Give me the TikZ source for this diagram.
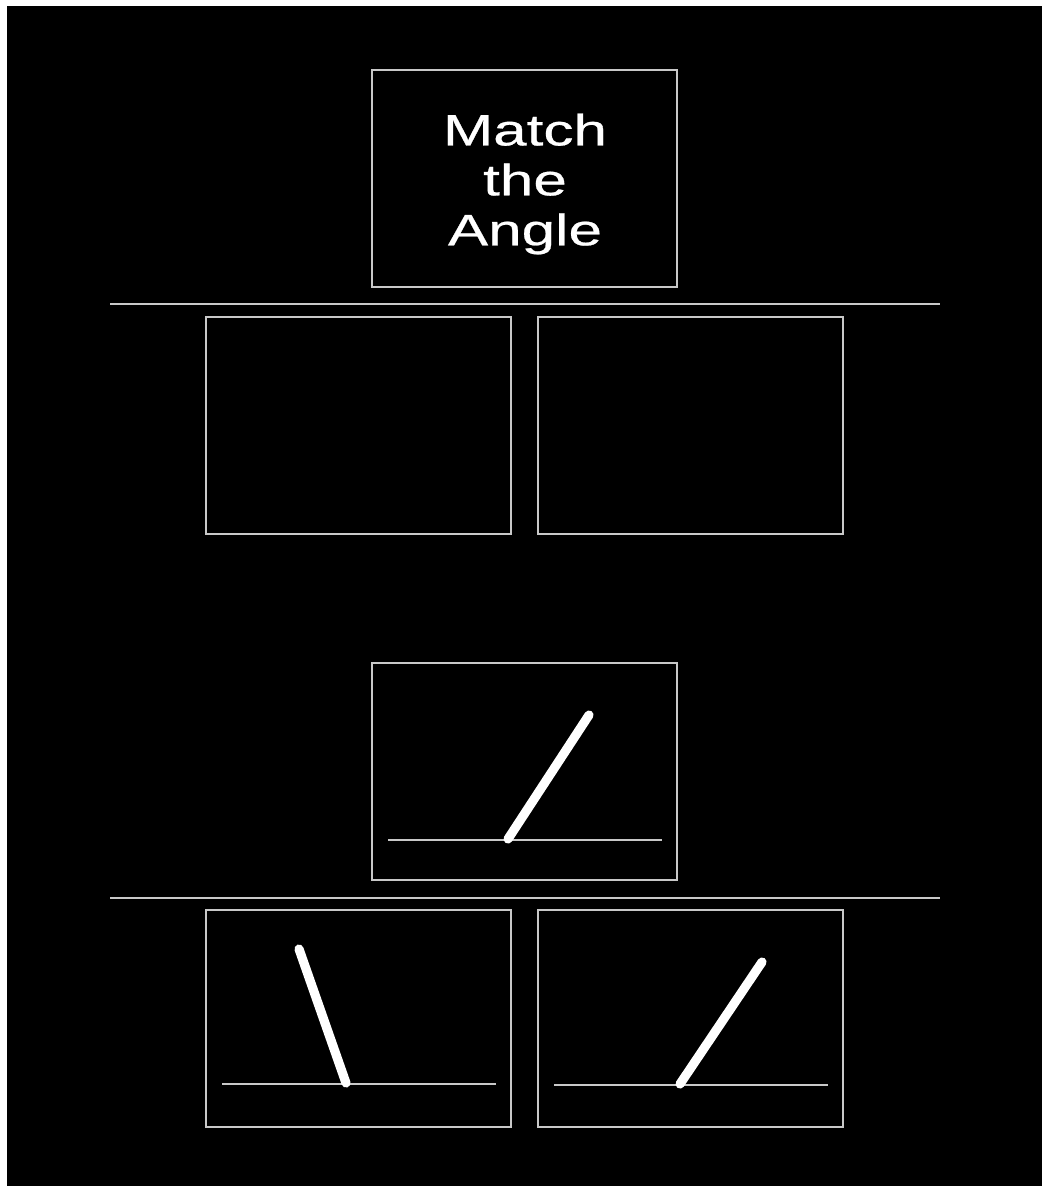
\documentclass[tikz,border=0pt]{standalone}
\usepackage{fontspec}
\setmainfont{Liberation Sans}
\newfontfamily\widefont[FakeStretch=1.37,FakeBold=0.6]{Liberation Sans}
\definecolor{edge}{RGB}{200,200,200}

\begin{document}
\begin{tikzpicture}[x=0.01cm, y=-0.01cm,
    card/.style={rectangle, draw=edge, line width=0.4pt, minimum width=3.05cm, minimum height=2.17cm, inner sep=0pt},
    rule/.style={draw=edge, line width=0.6pt},
    base/.style={draw=edge, line width=0.5pt},
    arm/.style={draw=white, line width=2.6pt, line cap=round}
]
    % page and black screen
    \fill[white] (0,0) rectangle (1042,1186);
    \fill[black] (7,6) rectangle (1042,1186);
    \useasboundingbox (0,0) rectangle (1042,1186);

    % Title card
    \node[card] (title) at (524.5,178.5) {};
    \node[text=white, align=center, font=\widefont\fontsize{12.5pt}{14.2pt}\selectfont] (titletext) at (525,184) {Match\\the\\Angle};

    % Separators
    \coordinate (s1l) at (110,304);
    \coordinate (s1r) at (940,304);
    \coordinate (s2l) at (110,898);
    \coordinate (s2r) at (940,898);
    \draw[rule] (s1l) -- (s1r);
    \draw[rule] (s2l) -- (s2r);

    % Empty answer slots
    \node[card] (slotA) at (358.5,425.5) {};
    \node[card] (slotB) at (690.5,425.5) {};

    % Target angle
    \node[card] (target) at (524.5,771.5) {};
    \coordinate (t1) at (388,840);
    \coordinate (t2) at (662,840);
    \coordinate (tv) at (508,839);
    \coordinate (tt) at (589,715);
    \draw[base] (t1) -- (t2);
    \draw[arm] (tv) -- (tt);

    % Choice cards
    \node[card] (optA) at (358.5,1018.5) {};
    \coordinate (a1) at (222,1084);
    \coordinate (a2) at (496,1084);
    \coordinate (av) at (346,1083);
    \coordinate (at) at (299,949);
    \draw[base] (a1) -- (a2);
    \draw[arm] (av) -- (at);

    \node[card] (optB) at (690.5,1018.5) {};
    \coordinate (b1) at (554,1085);
    \coordinate (b2) at (828,1085);
    \coordinate (bv) at (680,1084);
    \coordinate (bt) at (762,962);
    \draw[base] (b1) -- (b2);
    \draw[arm] (bv) -- (bt);
\end{tikzpicture}
\end{document}
